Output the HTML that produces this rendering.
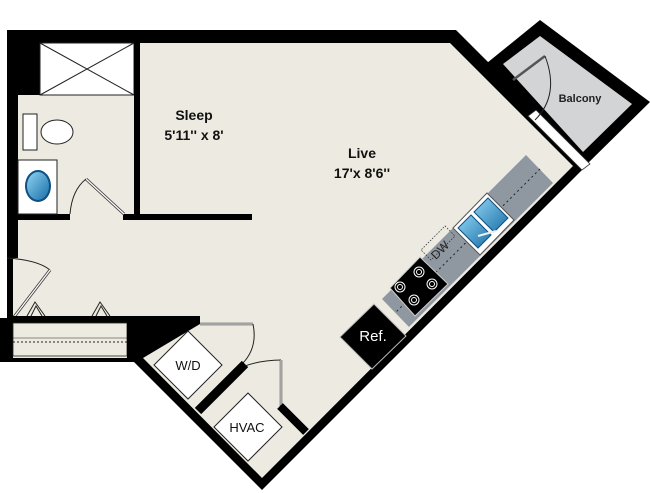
<!DOCTYPE html>
<html><head><meta charset="utf-8"><style>
html,body{margin:0;padding:0;background:#fff;}
svg{display:block;}
text{font-family:"Liberation Sans",Arial,sans-serif;}
</style></head><body>
<svg width="650" height="493" viewBox="0 0 650 493" xmlns="http://www.w3.org/2000/svg">
<defs>
<linearGradient id="bl" x1="0" y1="0" x2="1" y2="1"><stop offset="0" stop-color="#8fd3f2"/><stop offset="1" stop-color="#1a6fa8"/></linearGradient>
</defs>
<!-- balcony -->
<polygon points="540,20 650,102 583,168 487,63" fill="#000"/>
<polygon points="540,36 632,104 583,152 503,64" fill="#d3d4d6"/>
<!-- main black shell -->
<polygon points="7,30 456,30 589,163 262,490 134,362 0,362 0,318 7,318" fill="#000"/>
<!-- interior -->
<polygon points="20,43 450,43 573,166 262,478 143,358 13,358 13,258 18,258 18,95 40,95 40,43" fill="#edebe1"/>
<!-- balcony door strip -->
<polygon points="528,116 536,110 590,164 582,170" fill="#fff" stroke="#333" stroke-width="0.8"/>
<path d="M513,80 L545,56" stroke="#555" stroke-width="2.5"/>
<path d="M545,56 Q560,95 535,120" fill="none" stroke="#222" stroke-width="1"/>
<text x="580" y="102" font-size="11" font-weight="bold" text-anchor="middle" fill="#222">Balcony</text>
<!-- shower -->
<rect x="40" y="43" width="94" height="52" fill="#fff" stroke="#222" stroke-width="1"/>
<path d="M40,43 L134,95 M134,43 L40,95" stroke="#222" stroke-width="1"/>
<!-- sleep/bath walls -->
<rect x="134" y="43" width="6" height="177" fill="#000"/>
<rect x="123" y="214" width="129" height="6" fill="#000"/>
<rect x="18" y="214" width="52" height="6" fill="#000"/>
<!-- bath door -->
<path d="M86,179 L124,214" stroke="#444" stroke-width="3"/>
<path d="M86,179 L124,214" stroke="#fff" stroke-width="1.2"/>
<path d="M70,214 Q72,190 86,179" fill="none" stroke="#222" stroke-width="1"/>
<!-- toilet -->
<rect x="23" y="114" width="14" height="36" fill="#fff" stroke="#222" stroke-width="1"/>
<ellipse cx="57" cy="132" rx="16" ry="12" fill="#fff" stroke="#222" stroke-width="1"/>
<!-- sink -->
<rect x="18" y="160" width="39" height="54" fill="#fff" stroke="#222" stroke-width="1"/>
<ellipse cx="38" cy="186" rx="13" ry="16" fill="#0e4f80"/>
<ellipse cx="38" cy="186" rx="11" ry="14" fill="url(#bl)"/>
<!-- labels -->
<text x="194" y="120" font-size="14" font-weight="bold" text-anchor="middle" fill="#111">Sleep</text>
<text x="194" y="140" font-size="14" font-weight="bold" text-anchor="middle" fill="#111">5'11'' x 8'</text>
<text x="362" y="158" font-size="14" font-weight="bold" text-anchor="middle" fill="#111">Live</text>
<text x="362" y="178" font-size="14" font-weight="bold" text-anchor="middle" fill="#111">17'x 8'6''</text>
<!-- entry door -->
<path d="M7,258 Q38,260 50,270" fill="none" stroke="#222" stroke-width="1"/>
<path d="M50,270 L14,317" stroke="#444" stroke-width="3"/>
<path d="M50,270 L14,317" stroke="#fff" stroke-width="1.2"/>
<!-- closet -->
<rect x="13" y="316" width="187" height="7" fill="#000"/>
<rect x="13" y="323" width="114" height="33" fill="#edebe1" stroke="#222" stroke-width="0.8"/>
<path d="M13,342 L127,342" stroke="#222" stroke-width="1" stroke-dasharray="2,2"/>
<path d="M13,338 L127,338" stroke="#222" stroke-width="0.6"/>
<path d="M27,316 L35,302 L45,316 M31,316 L36,306 L42,316" fill="none" stroke="#222" stroke-width="1"/>
<path d="M92,316 L100,302 L110,316 M96,316 L101,306 L107,316" fill="none" stroke="#222" stroke-width="1"/>
<polygon points="127,316 200,316 200,324 143,358 127,358" fill="#000"/>
<!-- W/D -->
<path d="M200,324 L253,324" stroke="#444" stroke-width="2.5"/>
<path d="M200,324 L253,324" stroke="#fff" stroke-width="1"/>
<path d="M253,324 Q258,348 242,364" fill="none" stroke="#222" stroke-width="1"/>
<polygon points="188,331 222,365 188,399 154,365" fill="#fff" stroke="#222" stroke-width="1"/>
<text x="188" y="370" font-size="13" text-anchor="middle" fill="#111">W/D</text>
<path d="M245,364 L198,411" stroke="#000" stroke-width="9"/>
<!-- HVAC -->
<path d="M245,366 Q262,360 281,360" fill="none" stroke="#222" stroke-width="1"/>
<path d="M281,360 L281,407" stroke="#444" stroke-width="2.5"/>
<path d="M281,360 L281,407" stroke="#fff" stroke-width="1"/>
<path d="M280,406 L306,432" stroke="#000" stroke-width="8"/>
<polygon points="248,393 282,427 248,461 214,427" fill="#fff" stroke="#222" stroke-width="1"/>
<text x="247" y="432" font-size="13" text-anchor="middle" fill="#111">HVAC</text>
<!-- kitchen counter -->
<polygon points="526,155 553,183 409,327 382,299" fill="#8f98a1"/>
<path d="M540,169 L395,313" stroke="#222" stroke-width="1" stroke-dasharray="2,3"/>
<polygon points="420,257 448,284 415,316 390,288" fill="#000" stroke="#ccc" stroke-width="1"/>
<g fill="none" stroke="#fff" stroke-width="1">
<circle cx="419" cy="272" r="5"/><circle cx="419" cy="272" r="2.5"/>
<circle cx="432" cy="284" r="5"/><circle cx="432" cy="284" r="2.5"/>
<circle cx="400" cy="287" r="5"/><circle cx="400" cy="287" r="2.5"/>
<circle cx="414" cy="300" r="5"/><circle cx="414" cy="300" r="2.5"/>
</g>
<polygon points="445,226 455,236 431,260 421,250" fill="none" stroke="#333" stroke-width="0.8" stroke-dasharray="1.5,1.5"/>
<text x="0" y="0" font-size="12" fill="#222" text-anchor="middle" transform="translate(443,253) rotate(-45)">DW</text>
<polygon points="487,193 514,220 480,255 453,228" fill="#fff" stroke="#555" stroke-width="1"/>
<polygon points="488,198 508,218 494,232 474,212" fill="url(#bl)" stroke="#0e4f80" stroke-width="1"/>
<polygon points="471,215 491,235 478,248 458,228" fill="url(#bl)" stroke="#0e4f80" stroke-width="1"/>
<path d="M478,236 L496,231" stroke="#eee" stroke-width="2"/>
<!-- fridge -->
<polygon points="374,304 406,336 372,369 340,337" fill="#000" stroke="#bbb" stroke-width="1"/>
<text x="373" y="341" font-size="15" text-anchor="middle" fill="#fff">Ref.</text>
</svg>
</body></html>
